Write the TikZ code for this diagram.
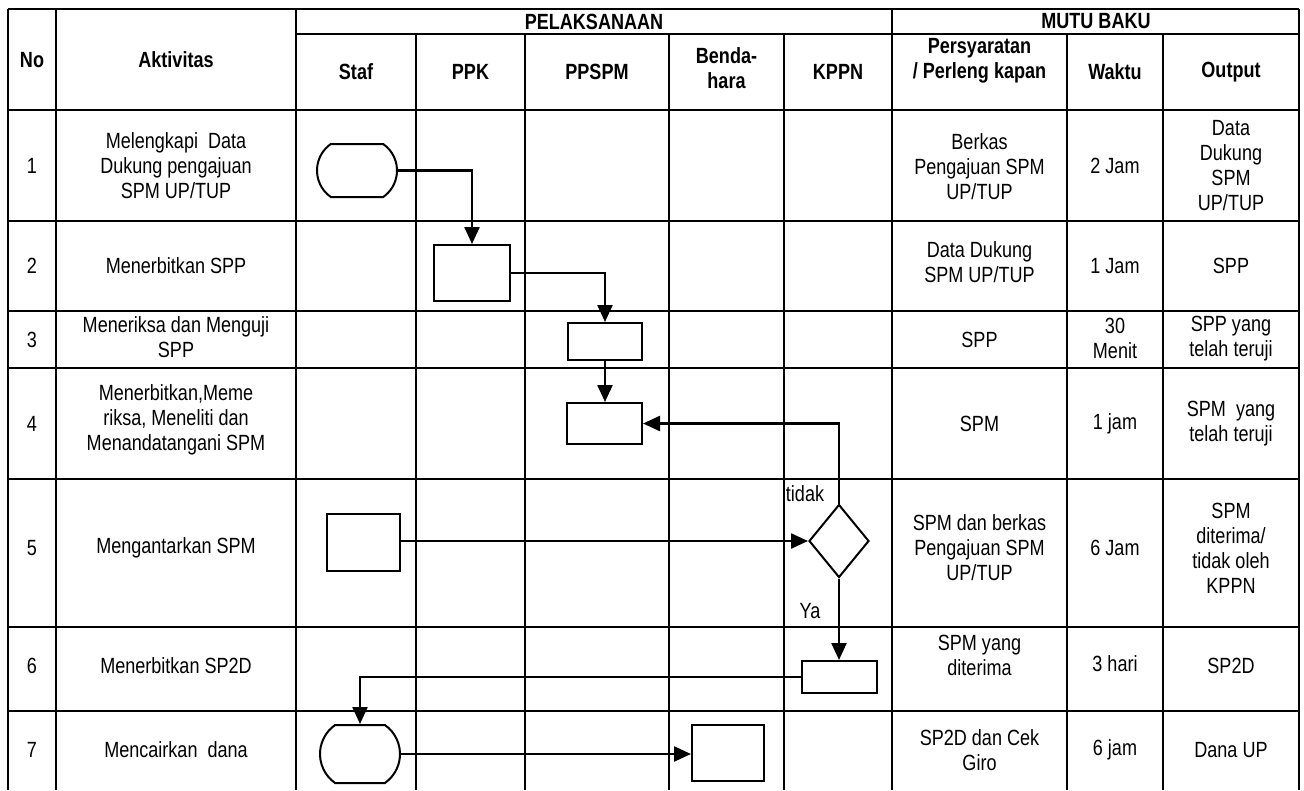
\documentclass[tikz,border=0pt]{standalone}
\usepackage{fontspec}
\setmainfont{Liberation Sans}[FakeStretch=0.82]
\usetikzlibrary{arrows.meta,positioning,shapes.geometric,shapes.misc}

\begin{document}
\begin{tikzpicture}[x=1pt,y=-1pt,
    grid/.style={line width=2.8pt,black},
    cell/.style={align=center,font=\fontsize{22}{25}\selectfont,inner sep=0pt},
    hdr/.style={align=center,font=\fontsize{22}{25}\selectfont\bfseries,inner sep=0pt},
    box/.style={draw,line width=2pt,rectangle,inner sep=0pt},
    term/.style={draw,line width=2pt,rounded rectangle,rounded rectangle arc length=110,minimum width=80pt,minimum height=53pt,inner sep=0pt},
    dec/.style={draw,line width=2pt,diamond,shape aspect=0.82,minimum width=60pt,minimum height=73pt,inner sep=0pt},
    arr/.style={-{Triangle[length=17pt,width=15pt]},line width=2.4pt}
  ]
  \useasboundingbox (0,0) rectangle (1304,790);

  % table lines
  \draw[grid] (8,9) -- (1299,9);
  \draw[grid] (296,34) -- (1299,34);
  \foreach \yy in {110,221,311,368,479,627,711} \draw[grid] (8,\yy) -- (1299,\yy);
  \foreach \xx in {8,56,296,892,1299} \draw[grid] (\xx,9) -- (\xx,790);
  \foreach \xx in {416,525,669,784,1067,1163} \draw[grid] (\xx,34) -- (\xx,790);

  % header
  \node[hdr] (hno) at (32,60) {No};
  \node[hdr] (hakt) at (176,60) {Aktivitas};
  \node[hdr] (hpel) at (594,21.5) {PELAKSANAAN};
  \node[hdr] (hmutu) at (1096,21.5) {MUTU BAKU};
  \node[hdr] (hstaf) at (356,72) {Staf};
  \node[hdr] (hppk) at (470.5,72) {PPK};
  \node[hdr] (hppspm) at (597,72) {PPSPM};
  \node[hdr] (hbend) at (726.5,68) {Benda-\\hara};
  \node[hdr] (hkppn) at (838,72) {KPPN};
  \node[hdr] (hsyarat) at (979.5,61) {Persyaratan\\/ Perleng kapan};
  \node[hdr] (hwaktu) at (1115,72) {Waktu};
  \node[hdr] (hout) at (1231,72) {Output};

  % row 1
  \node[cell] (no1) at (32,165.5) {1};
  \node[cell] (akt1) at (176,165.5) {Melengkapi \ Data\\Dukung pengajuan\\SPM UP/TUP};
  \node[cell] (syr1) at (979.5,167) {Berkas\\Pengajuan SPM\\UP/TUP};
  \node[cell] (wkt1) at (1115,165.5) {2 Jam};
  \node[cell] (out1) at (1231,165.5) {Data\\Dukung\\SPM\\UP/TUP};
  % row 2
  \node[cell] (no2) at (32,266) {2};
  \node[cell] (akt2) at (176,266) {Menerbitkan SPP};
  \node[cell] (syr2) at (979.5,262) {Data Dukung\\SPM UP/TUP};
  \node[cell] (wkt2) at (1115,266) {1 Jam};
  \node[cell] (out2) at (1231,266) {SPP};
  % row 3
  \node[cell] (no3) at (32,339.5) {3};
  \node[cell] (akt3) at (176,337) {Meneriksa dan Menguji\\SPP};
  \node[cell] (syr3) at (979.5,339.5) {SPP};
  \node[cell] (wkt3) at (1115,338) {30\\Menit};
  \node[cell] (out3) at (1231,339) {SPP yang\\telah teruji};
  % row 4
  \node[cell] (no4) at (32,423.5) {4};
  \node[cell] (akt4) at (176,420) {Menerbitkan,Meme\\riksa, Meneliti dan\\Menandatangani SPM};
  \node[cell] (syr4) at (979.5,423.5) {SPM};
  \node[cell] (wkt4) at (1115,423.5) {1 jam};
  \node[cell] (out4) at (1231,423.5) {SPM \ yang\\telah teruji};
  % row 5
  \node[cell] (no5) at (32,548) {5};
  \node[cell] (akt5) at (176,548) {Mengantarkan SPM};
  \node[cell] (syr5) at (979.5,548) {SPM dan berkas\\Pengajuan SPM\\UP/TUP};
  \node[cell] (wkt5) at (1115,548) {6 Jam};
  \node[cell] (out5) at (1231,548) {SPM\\diterima/\\tidak oleh\\KPPN};
  % row 6
  \node[cell] (no6) at (32,666) {6};
  \node[cell] (akt6) at (176,666) {Menerbitkan SP2D};
  \node[cell] (syr6) at (979.5,655) {SPM yang\\diterima};
  \node[cell] (wkt6) at (1115,664) {3 hari};
  \node[cell] (out6) at (1231,666) {SP2D};
  % row 7
  \node[cell] (no7) at (32,750) {7};
  \node[cell] (akt7) at (176,750) {Mencairkan \ dana};
  \node[cell] (syr7) at (979.5,750) {SP2D dan Cek\\Giro};
  \node[cell] (wkt7) at (1115,750) {6 jam};
  \node[cell] (out7) at (1231,750) {Dana UP};

  % flow shapes
  \node[term] (t1) at (357,170.5) {};
  \node[box,minimum width=76pt,minimum height=56pt] (b2) at (472,273) {};
  \node[box,minimum width=74pt,minimum height=37pt] (b3) at (605,341.5) {};
  \node[box,minimum width=75pt,minimum height=41pt] (b4) at (604.5,423.5) {};
  \node[box,minimum width=73pt,minimum height=57pt] (b5) at (363.5,542) {};
  \node[dec] (d5) at (839,541) {};
  \node[box,minimum width=75pt,minimum height=32pt] (b6) at (839.5,677) {};
  \node[term,minimum height=58pt] (t7) at (360,754) {};
  \node[box,minimum width=72pt,minimum height=56pt] (b7) at (728,753) {};

  \node[cell] (ltidak) at (805,494) {tidak};
  \node[cell] (lya) at (810,611) {Ya};

  % connectors
  \draw[arr] (t1.east) -| (b2.north);
  \draw[arr] (b2.east) -| (b3.north);
  \draw[arr] (b3.south) -- (b3.south |- b4.north);
  \draw[arr] (d5.north) |- (b4.east);
  \draw[arr] (b5.east |- d5.west) -- (d5.west);
  \draw[arr] (d5.south) -- (d5.south |- b6.north);
  \draw[arr] (b6.west) -| (t7.north);
  \draw[arr] (t7.east) -- (t7.east -| b7.west);
\end{tikzpicture}
\end{document}
